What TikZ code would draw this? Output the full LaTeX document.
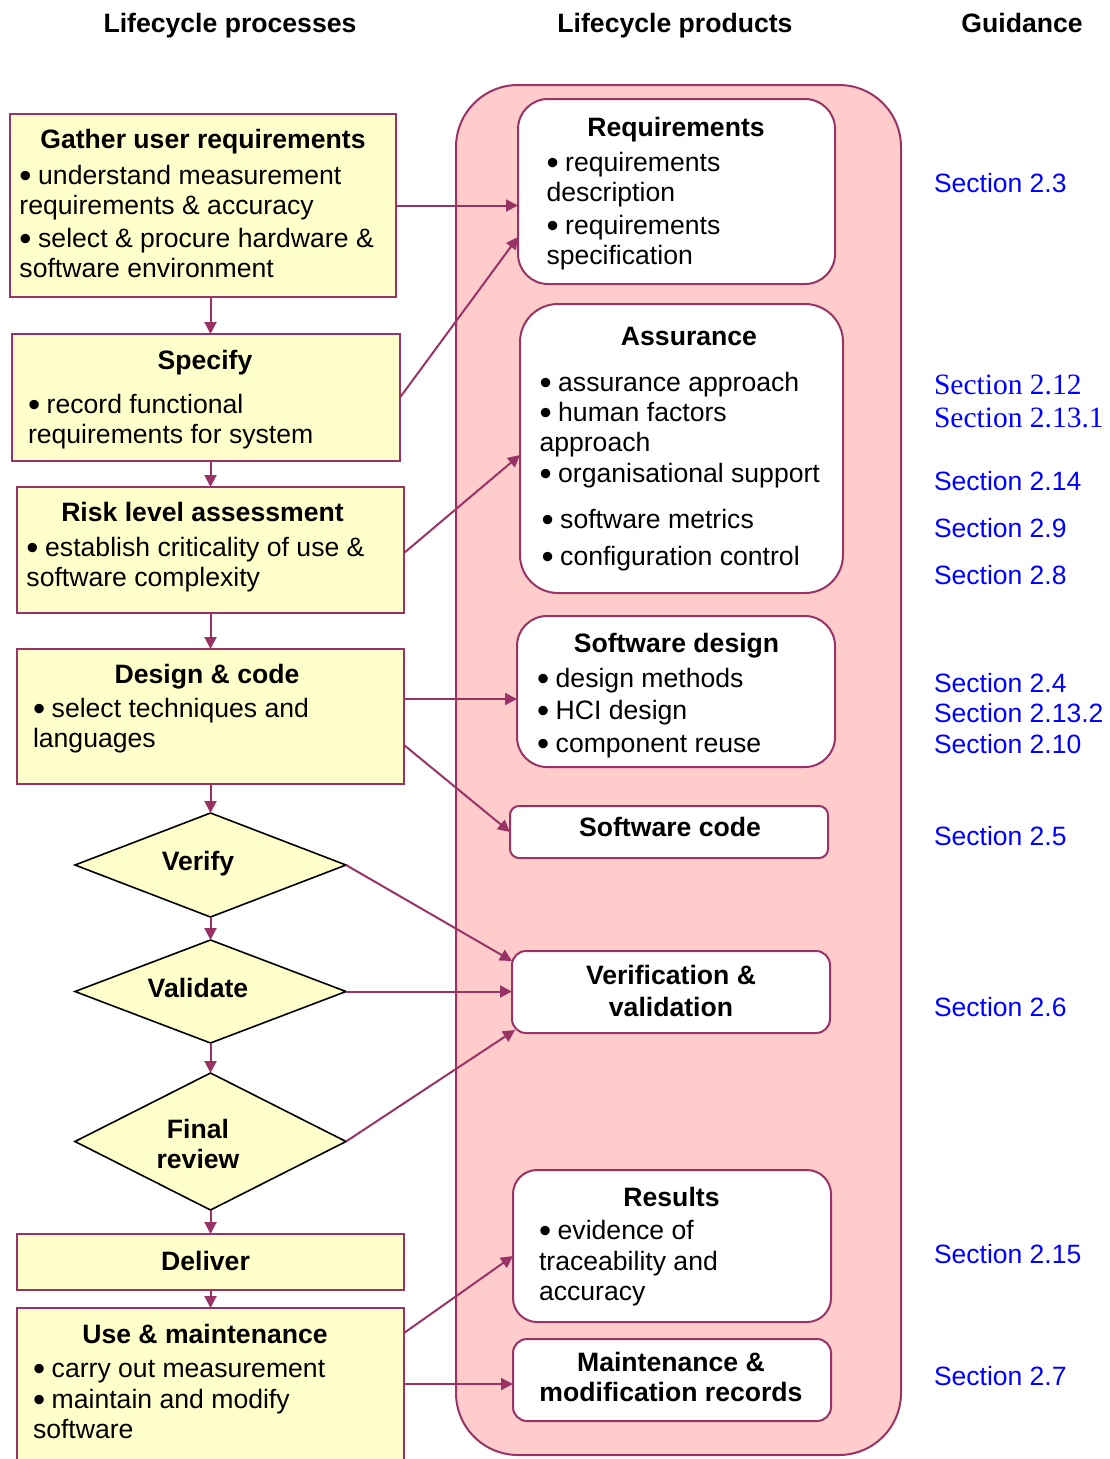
\documentclass[tikz,border=0pt]{standalone}
\usepackage{graphicx}
\usepackage{fontspec}
\setmainfont{Liberation Sans}
\newfontfamily\serifsec{Liberation Serif}
\usetikzlibrary{shapes.geometric,arrows.meta}
\definecolor{plum}{RGB}{153,51,102}
\definecolor{paleyellow}{RGB}{255,255,204}
\definecolor{palepink}{RGB}{255,204,204}
\definecolor{seclink}{RGB}{0,0,255}
% list bullet: slightly enlarged dot in a fixed-width slot
\newcommand\bul{\makebox[18.7pt][l]{\raisebox{-3.6pt}{\scalebox{1.3}{\textbullet}}}}

\begin{document}
\begin{tikzpicture}[x=1pt,y=-1pt,
  font=\fontsize{26.6}{30}\selectfont,
  every node/.style={inner sep=0pt, outer sep=0pt},
  procbox/.style={draw=plum, line width=2pt, fill=paleyellow, rectangle},
  decision/.style={draw=black, line width=1.6pt, fill=paleyellow, diamond},
  prodbox/.style={draw=plum, line width=2pt, fill=white, rectangle},
  container/.style={draw=plum, line width=2pt, fill=palepink, rectangle, rounded corners=62pt},
  title/.style={font=\fontsize{26.6}{30}\selectfont\bfseries, anchor=base},
  body/.style={anchor=base west},
  section/.style={text=seclink, anchor=base west, font=\fontsize{26.5}{30}\selectfont},
  oldsection/.style={section, font=\serifsec\fontsize{29.5}{33}\selectfont},
  flow/.style={draw=plum, line width=2pt, -{Triangle[length=12pt,width=12pt]}},
]
\clip (0,0) rectangle (1109,1459);

% column headings
\node[title] (hproc) at (230,32) {Lifecycle processes};
\node[title] (hprod) at (675,32) {Lifecycle products};
\node[title] (hguide) at (1022,32) {Guidance};

% products container
\node[container, minimum width=445pt, minimum height=1370pt] (products) at (678.5,770) {};

% product boxes
\node[prodbox, rounded corners=30pt, minimum width=317pt, minimum height=185pt] (req) at (676.5,191.5) {};
\node[prodbox, rounded corners=38pt, minimum width=323pt, minimum height=289pt] (assur) at (681.5,448.5) {};
\node[prodbox, rounded corners=30pt, minimum width=318pt, minimum height=151pt] (sdesign) at (676,691.5) {};
\node[prodbox, rounded corners=9pt, minimum width=318pt, minimum height=52pt] (scode) at (669,832) {};
\node[prodbox, rounded corners=14pt, minimum width=318pt, minimum height=82pt] (vv) at (671,992) {};
\node[prodbox, rounded corners=24pt, minimum width=318pt, minimum height=152pt] (results) at (672,1246) {};
\node[prodbox, rounded corners=14pt, minimum width=318pt, minimum height=82pt] (mm) at (672,1380) {};

% product texts
\node[title] (reqtitle) at (676,136) {Requirements};
\node[body] (reqbody) at (546.5,171) {\begin{tabular}[t]{@{}l@{}}\bul requirements\\ description\\[3pt] \bul requirements\\ specification\end{tabular}};
\node[title] (assurtitle) at (689,345) {Assurance};
\node[body] (assurbody) at (539.5,391) {\begin{tabular}[t]{@{}l@{}}\bul assurance approach\\ \bul human factors\\ approach\\[1pt] \bul organisational support\\[16pt] \hspace*{2pt}\bul software metrics\\[7pt] \hspace*{2pt}\bul configuration control\end{tabular}};
\node[title] (sdtitle) at (676.5,652) {Software design};
\node[body] (sdbody) at (537,687) {\begin{tabular}[t]{@{}l@{}}\bul design methods\\[2pt] \bul HCI design\\[3pt] \bul component reuse\end{tabular}};
\node[title] (sctitle) at (670,836) {Software code};
\node[title] (vvtitle) at (671,984) {\begin{tabular}[t]{@{}c@{}}Verification \&\\[2pt] validation\end{tabular}};
\node[title] (restitle) at (671.5,1206) {Results};
\node[body] (resbody) at (539,1239) {\begin{tabular}[t]{@{}l@{}}\bul evidence of\\[1pt] traceability and\\ accuracy\end{tabular}};
\node[title] (mmtitle) at (671,1371) {\begin{tabular}[t]{@{}c@{}}Maintenance \&\\ modification records\end{tabular}};

% process boxes
\node[procbox, minimum width=386pt, minimum height=183pt] (gather) at (203,205.5) {};
\node[procbox, minimum width=388pt, minimum height=127pt] (specify) at (206,397.5) {};
\node[procbox, minimum width=387pt, minimum height=126pt] (risk) at (210.5,550) {};
\node[procbox, minimum width=387pt, minimum height=135pt] (design) at (210.5,716.5) {};
\node[decision, minimum width=271pt, minimum height=104pt] (verify) at (210.5,865) {};
\node[decision, minimum width=271pt, minimum height=103pt] (validate) at (210.5,991.5) {};
\node[decision, minimum width=271pt, minimum height=137pt] (final) at (210.5,1141.5) {};
\node[procbox, minimum width=387pt, minimum height=56pt] (deliver) at (210.5,1262) {};
\node[procbox, minimum width=387pt, minimum height=172pt] (use) at (210.5,1394) {};

% process texts
\node[title] (gathertitle) at (203,148) {Gather user requirements};
\node[body] (gatherbody) at (19.5,184) {\begin{tabular}[t]{@{}l@{}}\bul understand measurement\\ requirements \& accuracy\\[3pt] \bul select \& procure hardware \&\\ software environment\end{tabular}};
\node[title] (specifytitle) at (205,369) {Specify};
\node[body] (specifybody) at (28,413) {\begin{tabular}[t]{@{}l@{}}\bul record functional\\ requirements for system\end{tabular}};
\node[title] (risktitle) at (202.5,521) {Risk level assessment};
\node[body] (riskbody) at (26.5,556) {\begin{tabular}[t]{@{}l@{}}\bul establish criticality of use \&\\ software complexity\end{tabular}};
\node[title] (designtitle) at (207,683) {Design \& code};
\node[body] (designbody) at (33,717) {\begin{tabular}[t]{@{}l@{}}\bul select techniques and\\ languages\end{tabular}};
\node[title] (verifytitle) at (198,870) {Verify};
\node[title] (validatetitle) at (198,997) {Validate};
\node[title] (finaltitle) at (198,1138) {\begin{tabular}[t]{@{}c@{}}Final\\ review\end{tabular}};
\node[title] (delivertitle) at (205.5,1270) {Deliver};
\node[title] (usetitle) at (205,1343) {Use \& maintenance};
\node[body] (usebody) at (33,1377) {\begin{tabular}[t]{@{}l@{}}\bul carry out measurement\\[1pt] \bul maintain and modify\\ software\end{tabular}};

% guidance references
\node[section] (s23) at (934,192) {Section 2.3};
\node[oldsection] (s212) at (934,394) {Section 2.12};
\node[oldsection] (s2131) at (934,427.5) {Section 2.13.1};
\node[section] (s214) at (934,490) {Section 2.14};
\node[section] (s29) at (934,537) {Section 2.9};
\node[section] (s28) at (934,584) {Section 2.8};
\node[section] (s24) at (934,692) {Section 2.4};
\node[section] (s2132) at (934,722.5) {Section 2.13.2};
\node[section] (s210) at (934,753) {Section 2.10};
\node[section] (s25) at (934,845) {Section 2.5};
\node[section] (s26) at (934,1016) {Section 2.6};
\node[section] (s215) at (934,1263) {Section 2.15};
\node[section] (s27) at (934,1385) {Section 2.7};

% process flow
\draw[flow] (gather.south -| verify.north) -- (specify.north -| verify.north);
\draw[flow] (specify.south -| verify.north) -- (risk.north -| verify.north);
\draw[flow] (risk.south -| verify.north) -- (design.north -| verify.north);
\draw[flow] (design.south -| verify.north) -- (verify.north);
\draw[flow] (verify.south) -- (validate.north);
\draw[flow] (validate.south) -- (final.north);
\draw[flow] (final.south) -- (deliver.north -| final.south);
\draw[flow] (deliver.south -| final.south) -- (use.north -| final.south);

% links from processes to products
\coordinate (dsout) at ([yshift=17.5pt]design.east);
\coordinate (dcout) at ([yshift=-28.5pt]design.east);
\coordinate (useout1) at ([yshift=-25pt]use.north east);
\coordinate (useout2) at ([yshift=-76pt]use.north east);
\draw[flow] (gather.east) -- (gather.east -| req.west);
\draw[flow] (specify.east) -- ([yshift=-45.5pt]req.west);
\draw[flow] ([yshift=-3pt]risk.east) -- ([yshift=-6.5pt]assur.west);
\draw[flow] (dsout) -- (dsout -| sdesign.west);
\draw[flow] (dcout) -- (scode.west);
\draw[flow] (verify.east) -- ([yshift=31pt]vv.west);
\draw[flow] (validate.east) -- (validate.east -| vv.west);
\draw[flow] (final.east) -- ([xshift=3pt,yshift=-38pt]vv.west);
\draw[flow] (useout1) -- ([yshift=-10pt]results.west);
\draw[flow] (useout2) -- (useout2 -| mm.west);
\end{tikzpicture}
\end{document}
